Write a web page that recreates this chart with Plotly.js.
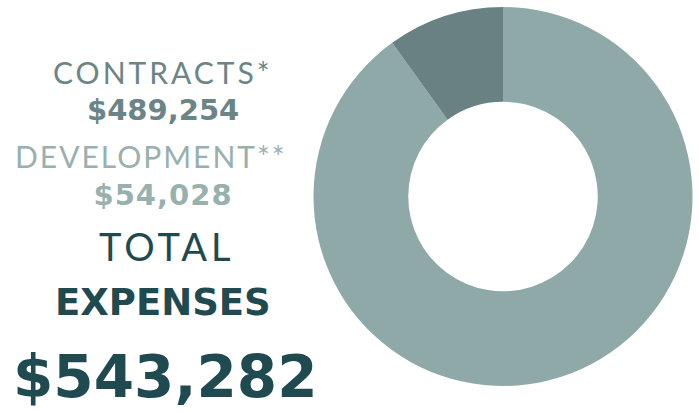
<!DOCTYPE html>
<html>
<head>
<meta charset="utf-8">
<script src="https://cdn.plot.ly/plotly-3.0.1.min.js"></script>
<style>html,body{margin:0;padding:0;background:#fff;}#chart{width:699px;height:413px;}</style>
</head>
<body>
<div id="chart"></div>
<script>
const categories = ["CONTRACTS*", "DEVELOPMENT**"];
const values = [489254, 54028];
const valueLabels = ["$489,254", "$54,028"];
const totalLabel = "$543,282";
const sliceColors = ["#8fa8a8", "#6a8184"];

const W = 699, H = 413;
const px = x => x / W;
const py = y => 1 - y / H;

const specs = [
  {text: categories[0], x: 163, y: 72, font: {family: "Lato", size: 30, color: "#6b8587"}, ls: 3},
  {text: "<b>" + valueLabels[0] + "</b>", x: 163, y: 110, font: {family: "DejaVu Sans", size: 29, color: "#6b8587"}, ls: 0},
  {text: categories[1], x: 151, y: 156, font: {family: "Lato", size: 30, color: "#98b0ae"}, ls: 2},
  {text: "<b>" + valueLabels[1] + "</b>", x: 163, y: 195, font: {family: "DejaVu Sans", size: 29, color: "#98b0ae"}, ls: 1},
  {text: "TOTAL", x: 166, y: 246, font: {family: "Lato", size: 38, color: "#1f4a50"}, ls: 4},
  {text: "<b>EXPENSES</b>", x: 163, y: 302, font: {family: "DejaVu Sans", size: 37, color: "#1f4a50"}, ls: 0},
  {text: "<b>" + totalLabel + "</b>", x: 165, y: 377, font: {family: "DejaVu Sans", size: 58, color: "#1f4a50"}, ls: 0}
];

const annotations = specs.map(s => ({
  text: s.text, x: px(s.x), y: py(s.y), font: s.font,
  xref: "paper", yref: "paper", xanchor: "center", yanchor: "middle", showarrow: false
}));

const trace = {
  type: "pie",
  labels: categories,
  values: values,
  sort: false,
  direction: "clockwise",
  rotation: 0,
  hole: 0.5,
  textinfo: "none",
  hoverinfo: "label+value",
  marker: {colors: sliceColors, line: {width: 0}},
  domain: {x: [px(313), px(693)], y: [py(386), py(7)]},
  showlegend: false
};

Plotly.newPlot("chart", [trace], {
  width: W, height: H,
  margin: {l: 0, r: 0, t: 0, b: 0},
  paper_bgcolor: "#ffffff",
  showlegend: false,
  annotations: annotations
}, {displayModeBar: false, staticPlot: true}).then(gd => {
  const texts = gd.querySelectorAll(".annotation-text");
  texts.forEach((t, i) => {
    if (specs[i] && specs[i].ls) t.style.letterSpacing = specs[i].ls + "px";
  });
});
</script>
</body>
</html>
